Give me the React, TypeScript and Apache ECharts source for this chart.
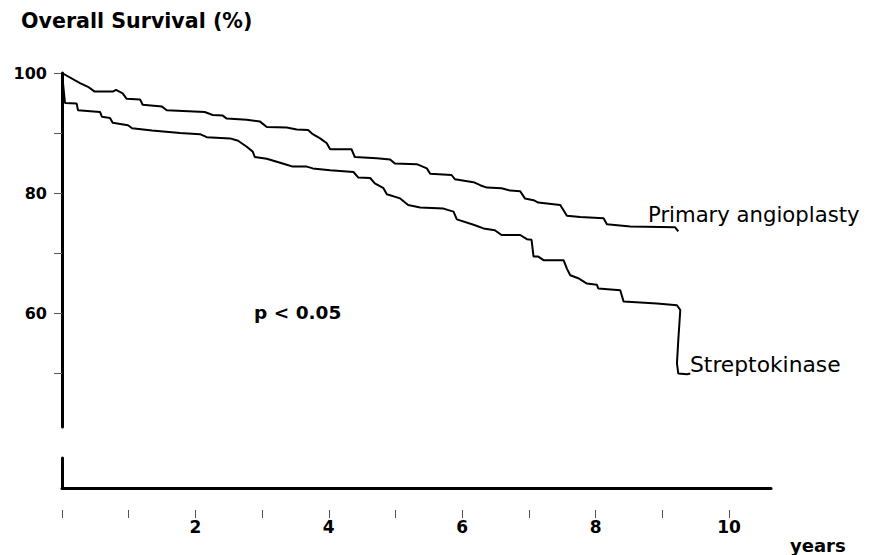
import React, { useEffect, useRef } from "react";
import * as echarts from "echarts";

const yearTicks = [0, 1, 2, 3, 4, 5, 6, 7, 8, 9, 10];
const yearLabels = [2, 4, 6, 8, 10];
const survivalTicks = [50, 60, 70, 80, 90, 100];
const survivalLabels = [60, 80, 100];

const angioplastyYears = [
  0, 0.27, 0.39, 0.49, 0.76, 0.81, 0.91, 0.97, 1.17, 1.21, 1.5, 1.57, 2.14, 2.26, 2.41, 2.47,
  2.77, 2.97, 3.07, 3.37, 3.52, 3.69, 3.76, 3.87, 3.97, 4.02, 4.34, 4.39, 4.72, 4.92, 4.99,
  5.32, 5.47, 5.52, 5.84, 5.89, 6.17, 6.27, 6.37, 6.59, 6.72, 6.87, 6.94, 7.07, 7.14, 7.47,
  7.57, 7.77, 8.12, 8.17, 8.52, 9.19, 9.24,
];
const angioplastySurvival = [
  100, 98.3, 97.7, 96.9, 96.9, 97.2, 96.6, 95.7, 95.6, 94.7, 94.4, 93.8, 93.5, 93.0, 92.9, 92.4,
  92.2, 91.9, 91.0, 90.9, 90.6, 90.5, 89.8, 89.1, 88.3, 87.3, 87.3, 86.0, 85.8, 85.6, 84.9,
  84.8, 84.1, 83.2, 83.0, 82.3, 81.8, 81.3, 80.9, 80.8, 80.4, 80.3, 79.1, 78.8, 78.4, 78.0,
  76.2, 76.0, 75.8, 74.8, 74.4, 74.3, 73.6,
];

const streptokinaseYears = [
  0, 0.045, 0.22, 0.24, 0.57, 0.6, 0.72, 0.76, 0.99, 1.05, 1.35, 1.77, 2.07, 2.17, 2.52, 2.64,
  2.77, 2.86, 2.89, 3.07, 3.22, 3.37, 3.46, 3.67, 3.76, 4.02, 4.37, 4.44, 4.62, 4.69, 4.82,
  4.87, 5.07, 5.19, 5.37, 5.72, 5.87, 5.92, 6.17, 6.32, 6.49, 6.59, 6.87, 6.97, 7.04, 7.07,
  7.14, 7.22, 7.52, 7.57, 7.62, 7.74, 7.87, 8.02, 8.04, 8.37, 8.42, 8.92, 9.22, 9.27, 9.24,
  9.22, 9.24, 9.37, 9.42,
];
const streptokinaseSurvival = [
  100, 95.0, 94.9, 93.8, 93.5, 92.7, 92.5, 91.7, 91.3, 90.8, 90.4, 90.0, 89.8, 89.3, 89.1, 88.7,
  87.7, 86.9, 86.0, 85.7, 85.2, 84.7, 84.4, 84.4, 84.1, 83.8, 83.5, 82.6, 82.5, 81.6, 80.8,
  79.8, 79.1, 78.0, 77.6, 77.4, 76.9, 75.6, 74.7, 74.1, 73.8, 73.0, 73.0, 72.3, 72.2, 69.4,
  69.4, 68.8, 68.8, 67.4, 66.3, 65.8, 64.9, 64.7, 64.1, 63.8, 61.9, 61.6, 61.3, 60.5, 55.5,
  51.6, 49.9, 49.8, 49.9,
];

const X_MAX = 10.63;
const FONT = "DejaVu Sans";

function zip(xs: number[], ys: number[]) {
  return xs.map((x, i) => [x, ys[i]]);
}

export default function App() {
  const ref = useRef<HTMLDivElement>(null);

  useEffect(() => {
    if (!ref.current) return;
    const chart = echarts.init(ref.current, null, { renderer: "svg" });

    const lineStyle = { color: "#000", width: 3 };

    chart.setOption({
      animation: false,
      backgroundColor: "#fff",
      grid: [
        { left: 62, top: 73, width: 709, height: 354 },
        { left: 62, top: 458, width: 709, height: 30 },
      ],
      xAxis: [
        {
          gridIndex: 0,
          type: "value",
          min: 0,
          max: X_MAX,
          show: false,
        },
        {
          gridIndex: 1,
          type: "value",
          min: 0,
          max: X_MAX,
          axisLine: { show: true, onZero: false, lineStyle },
          axisTick: { show: false },
          axisLabel: { show: false },
          splitLine: { show: false },
        },
        {
          gridIndex: 1,
          type: "value",
          min: 0,
          max: X_MAX,
          position: "bottom",
          offset: 22,
          axisLine: { show: false, onZero: false },
          axisTick: {
            show: true,
            length: 8,
            customValues: yearTicks,
            lineStyle: { color: "#555", width: 1 },
          },
          axisLabel: {
            show: true,
            customValues: yearLabels,
            margin: 8,
            fontSize: 17,
            fontWeight: "bold",
            fontFamily: FONT,
            color: "#000",
          },
          splitLine: { show: false },
        },
      ],
      yAxis: [
        {
          gridIndex: 0,
          type: "value",
          min: 41,
          max: 100,
          axisLine: { show: true, onZero: false, lineStyle },
          axisTick: {
            show: true,
            length: 8,
            customValues: survivalTicks,
            lineStyle: { color: "#555", width: 1 },
          },
          axisLabel: {
            show: true,
            customValues: survivalLabels,
            margin: 15,
            fontSize: 16,
            fontWeight: "bold",
            fontFamily: FONT,
            color: "#000",
          },
          splitLine: { show: false },
        },
        {
          gridIndex: 1,
          type: "value",
          min: 0,
          max: 1,
          axisLine: { show: true, onZero: false, lineStyle },
          axisTick: { show: false },
          axisLabel: { show: false },
          splitLine: { show: false },
        },
      ],
      series: [
        {
          name: "Primary angioplasty",
          type: "line",
          xAxisIndex: 0,
          yAxisIndex: 0,
          data: zip(angioplastyYears, angioplastySurvival),
          symbol: "none",
          smooth: false,
          lineStyle: { color: "#000", width: 2 },
        },
        {
          name: "Streptokinase",
          type: "line",
          xAxisIndex: 0,
          yAxisIndex: 0,
          data: zip(streptokinaseYears, streptokinaseSurvival),
          symbol: "none",
          smooth: false,
          lineStyle: { color: "#000", width: 2 },
        },
      ],
      graphic: [
        {
          type: "text",
          x: 21,
          y: 21,
          style: {
            text: "Overall Survival (%)",
            fill: "#000",
            fontSize: 20.6,
            fontWeight: "bold",
            fontFamily: FONT,
            align: "left",
            verticalAlign: "middle",
          },
        },
        {
          type: "text",
          x: 254,
          y: 312,
          style: {
            text: "p < 0.05",
            fill: "#000",
            fontSize: 18.5,
            fontWeight: "bold",
            fontFamily: FONT,
            align: "left",
            verticalAlign: "middle",
          },
        },
        {
          type: "text",
          x: 648,
          y: 214,
          style: {
            text: "Primary angioplasty",
            fill: "#000",
            fontSize: 21.2,
            fontFamily: FONT,
            align: "left",
            verticalAlign: "middle",
          },
        },
        {
          type: "text",
          x: 690,
          y: 364,
          style: {
            text: "Streptokinase",
            fill: "#000",
            fontSize: 21.8,
            fontFamily: FONT,
            align: "left",
            verticalAlign: "middle",
          },
        },
        {
          type: "text",
          x: 790,
          y: 545,
          style: {
            text: "years",
            fill: "#000",
            fontSize: 18,
            fontWeight: "bold",
            fontFamily: FONT,
            align: "left",
            verticalAlign: "middle",
          },
        },
      ],
    });

    return () => chart.dispose();
  }, []);

  return (
    <div
      ref={ref}
      style={{ position: "fixed", left: 0, top: 0, width: 869, height: 555 }}
    />
  );
}
